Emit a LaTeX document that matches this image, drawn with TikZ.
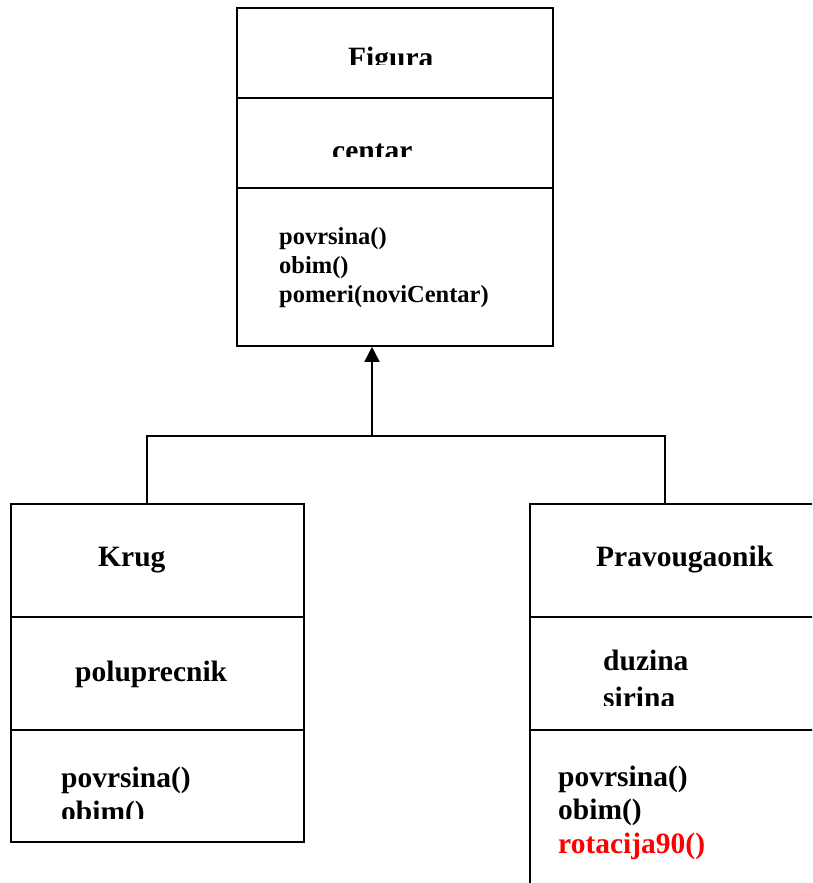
\documentclass[tikz,border=0pt]{standalone}
\usepackage{fontspec}
\setmainfont{Liberation Serif}
\usetikzlibrary{arrows.meta}
\definecolor{umlred}{RGB}{255,0,0}
\tikzset{
  classbox/.style={draw=black, line width=1.6pt, rectangle, inner sep=0pt, fill=none},
  bigtext/.style={anchor=base west, inner sep=0pt, font=\fontsize{29.5}{34}\selectfont\bfseries},
  smalltext/.style={anchor=base west, inner sep=0pt, font=\fontsize{24.5}{29}\selectfont\bfseries},
  conn/.style={draw=black, line width=1.6pt},
  inherit/.style={conn, -{Triangle[length=15pt,width=15pt]}}
}
\begin{document}
\begin{tikzpicture}[x=1pt,y=-1pt]
\clip (0,0) rectangle (812,883);
\fill[white] (0,0) rectangle (812,883);
% class boxes
\node[classbox, minimum width=316pt, minimum height=338pt] (figura) at (395,177) {};
\node[classbox, minimum width=293pt, minimum height=338pt] (krug) at (157.5,673) {};
\node[classbox, minimum width=320pt, minimum height=400pt] (pravo) at (690,704) {};
% dividers
\draw[conn] (237,98) -- (553,98);
\draw[conn] (237,188) -- (553,188);
\draw[conn] (11,617) -- (304,617);
\draw[conn] (11,730) -- (304,730);
\draw[conn] (530,617) -- (850,617);
\draw[conn] (530,730) -- (850,730);
% Figura texts
\begin{scope}
\clip (238,9) rectangle (552,65);
\node[bigtext] (tfig) at (348,67) {Figura};
\end{scope}
\begin{scope}
\clip (238,99) rectangle (552,156);
\node[bigtext] (tcen) at (332,160.5) {centar};
\end{scope}
\node[smalltext] (fm1) at (279,244) {povrsina()};
\node[smalltext] (fm2) at (279,273) {obim()};
\node[smalltext] (fm3) at (279,302) {pomeri(noviCentar)};
% Krug texts
\node[bigtext] (tkrug) at (98,566) {Krug};
\node[bigtext] (tpol) at (75,681) {poluprecnik};
\begin{scope}
\clip (12,731) rectangle (303,818);
\node[bigtext] (km1) at (61,787) {povrsina()};
\node[bigtext] (km2) at (61,821) {obim()};
\end{scope}
% Pravougaonik texts
\node[bigtext] (tpravo) at (596,566) {Pravougaonik};
\begin{scope}
\clip (531,618) rectangle (812,705);
\node[bigtext] (pa1) at (603,670) {duzina};
\node[bigtext] (pa2) at (603,707) {sirina};
\end{scope}
\node[bigtext] (pm1) at (558,786) {povrsina()};
\node[bigtext] (pm2) at (558,819) {obim()};
\node[bigtext, text=umlred] (pm3) at (558,853) {rotacija90()};
% connectors
\coordinate (j) at (372,436);
\coordinate (kl) at (147,436);
\coordinate (pl) at (665,436);
\draw[conn] (kl |- krug.north) -- (kl) -- (pl) -- (pl |- pravo.north);
\draw[inherit] (j) -- (j |- figura.south);
\end{tikzpicture}
\end{document}
